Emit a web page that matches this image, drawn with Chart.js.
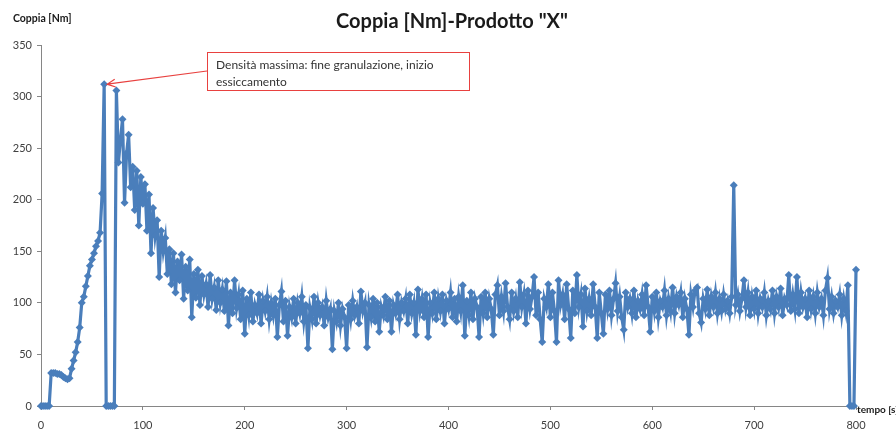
<!DOCTYPE html>
<html>
<head>
<meta charset="utf-8">
<script src="https://cdn.jsdelivr.net/npm/chart.js@4"></script>
<style>
  html, body { margin: 0; padding: 0; background: #ffffff; }
  #grafico { display: block; }
</style>
</head>
<body>
<canvas id="grafico" width="896" height="430"></canvas>
<script>
// Coppia misurata ogni 2 secondi, da t = 0 a t = 800 s
var passo = 2;
var coppia = [
  0, 0, 0, 0, 0, 32, 32, 32, 31, 31,              // t 0
  30, 28, 27, 26, 27, 36, 44, 52, 62, 76,         // t 20
  100, 106, 116, 126, 136, 142, 148, 155, 160, 168, // t 40
  206, 312, 0, 0, 0, 0, 0, 306, 236, 258,         // t 60
  278, 197, 245, 263, 212, 232, 190, 228, 175, 222, // t 80
  196, 215, 170, 205, 148, 192, 165, 180, 125, 170, // t 100
  150, 163, 128, 152, 118, 148, 110, 140, 122, 147, // t 120
  104, 135, 112, 142, 86, 128, 105, 132, 98, 126, // t 140
  108, 118, 96, 127, 104, 115, 93, 122, 100, 113, // t 160
  92, 121, 78, 110, 90, 122, 95, 108, 84, 112,    // t 180
  70, 104, 88, 110, 82, 98, 90, 108, 80, 102,     // t 200
  92, 106, 84, 100, 88, 104, 67, 98, 111, 82,     // t 220
  102, 68, 96, 86, 104, 80, 100, 90, 106, 82,     // t 240
  98, 56, 95, 84, 106, 80, 100, 88, 96, 78,       // t 260
  102, 86, 94, 55, 92, 82, 100, 78, 94, 86,       // t 280
  56, 98, 84, 102, 88, 96, 80, 111, 92, 100,      // t 300
  57, 98, 86, 104, 82, 100, 72, 96, 88, 106,      // t 320
  84, 102, 72, 98, 90, 108, 84, 100, 92, 104,     // t 340
  80, 108, 90, 100, 69, 113, 92, 104, 86, 108,    // t 360
  67, 100, 90, 110, 84, 104, 92, 108, 80, 102,    // t 380
  94, 110, 86, 104, 82, 106, 92, 117, 68, 102,    // t 400
  88, 110, 84, 104, 96, 67, 106, 90, 110, 86,     // t 420
  104, 94, 69, 108, 117, 88, 106, 92, 119, 96,    // t 440
  84, 110, 92, 104, 86, 120, 96, 108, 80, 112,    // t 460
  94, 106, 125, 88, 110, 84, 62, 104, 96, 118,    // t 480
  86, 110, 92, 62, 122, 98, 108, 84, 118, 94,     // t 500
  66, 112, 90, 127, 96, 108, 77, 114, 92, 104,    // t 520
  88, 118, 96, 66, 110, 90, 70, 108, 94, 112,     // t 540
  88, 104, 119, 92, 106, 86, 74, 110, 96, 104,    // t 560
  90, 112, 86, 102, 94, 108, 88, 117, 96, 72,     // t 580
  106, 92, 110, 86, 102, 96, 112, 88, 104, 92,    // t 600
  115, 90, 106, 98, 110, 86, 104, 94, 69, 108,    // t 620
  96, 112, 115, 90, 81, 104, 94, 113, 88, 106,    // t 640
  96, 110, 90, 104, 92, 108, 94, 102, 90, 106,    // t 660
  214, 98, 108, 92, 104, 122, 96, 110, 88, 106,   // t 680
  94, 112, 90, 104, 96, 110, 88, 102, 94, 112,    // t 700
  90, 106, 96, 114, 88, 104, 98, 127, 92, 108,    // t 720
  94, 125, 90, 110, 96, 104, 86, 112, 94, 106,    // t 740
  90, 110, 96, 104, 88, 112, 124, 94, 106, 90,    // t 760
  102, 96, 108, 88, 104, 92, 117, 0, 0, 0,        // t 780
  132                                             // t 800
];
var tickTempo = [0, 100, 200, 300, 400, 500, 600, 700, 800];
var tickCoppia = [0, 50, 100, 150, 200, 250, 300, 350];

var titolo = 'Coppia [Nm]-Prodotto "X"';
var titoloY = 'Coppia [Nm]';
var titoloX = 'tempo [s]';
var nota = ['Densità massima: fine granulazione, inizio', 'essiccamento'];
var picco = { x: 62, y: 312 }; // punto indicato dalla nota

var punti = coppia.map(function (v, i) { return { x: i * passo, y: v }; });

var grigio = '#868686';
var blu = '#4a7ebb';
var rosso = '#e8413f';

// testi e nota disegnati sopra il grafico
var testi = {
    id: 'testi',
    afterDraw: function (chart) {
        var ctx = chart.ctx;
        ctx.save();
        ctx.fillStyle = '#1a1a1a';
        ctx.textBaseline = 'middle';
        ctx.textAlign = 'center';
        ctx.font = 'bold 20px Lato';
        ctx.fillText(titolo, 452, 22);

        ctx.textAlign = 'left';
        ctx.font = 'bold 10.5px Lato';
        ctx.fillText(titoloY, 13, 19);
        ctx.font = 'bold 10px Lato';
        ctx.fillText(titoloX, 857, 410);

        // riquadro della nota
        ctx.fillStyle = '#ffffff';
        ctx.fillRect(207.5, 52.5, 262, 38);
        ctx.strokeStyle = rosso;
        ctx.lineWidth = 1;
        ctx.strokeRect(207.5, 52.5, 262, 38);
        ctx.fillStyle = '#333333';
        ctx.font = '12px Lato';
        ctx.fillText(nota[0], 216, 65);
        ctx.fillText(nota[1], 216, 82);

        // freccia verso il picco
        var px = chart.scales.x.getPixelForValue(picco.x) + 3;
        var py = chart.scales.y.getPixelForValue(picco.y);
        var sx = 207, sy = 71;
        var ang = Math.atan2(py - sy, px - sx);
        ctx.strokeStyle = rosso;
        ctx.lineWidth = 1.2;
        ctx.beginPath();
        ctx.moveTo(sx, sy);
        ctx.lineTo(px, py);
        ctx.moveTo(px - 9 * Math.cos(ang + 0.45), py - 9 * Math.sin(ang + 0.45));
        ctx.lineTo(px, py);
        ctx.lineTo(px - 9 * Math.cos(ang - 0.45), py - 9 * Math.sin(ang - 0.45));
        ctx.stroke();
        ctx.restore();
    }
};

Chart.defaults.font.family = 'Lato';

var ctx = document.getElementById('grafico').getContext('2d');
var myChart = new Chart(ctx, {
    type: 'line',
    data: {
        datasets: [{
            data: punti,
            borderColor: blu,
            backgroundColor: blu,
            borderWidth: 3.2,
            pointStyle: 'rectRot',
            pointRadius: 4,
            pointBorderWidth: 0,
            tension: 0,
            clip: false
        }]
    },
    options: {
        responsive: false,
        animation: false,
        layout: {
            padding: { top: 45, right: 40, left: 0, bottom: 0 }
        },
        plugins: {
            legend: { display: false },
            tooltip: { enabled: false }
        },
        scales: {
            x: {
                type: 'linear',
                min: 0,
                max: 800,
                afterBuildTicks: function (scale) {
                    scale.ticks = tickTempo.map(function (v) { return { value: v }; });
                },
                afterFit: function (scale) { scale.height = 24; },
                grid: { drawOnChartArea: false, tickLength: 4, color: grigio },
                border: { color: grigio },
                ticks: { color: '#404040', font: { size: 11 }, padding: 9, maxRotation: 0 }
            },
            y: {
                min: 0,
                max: 350,
                afterBuildTicks: function (scale) {
                    scale.ticks = tickCoppia.map(function (v) { return { value: v }; });
                },
                afterFit: function (scale) { scale.width = 41; },
                grid: { drawOnChartArea: false, tickLength: 4, color: grigio },
                border: { color: grigio },
                ticks: { color: '#404040', font: { size: 11 }, padding: 5 }
            }
        }
    },
    plugins: [testi]
});
</script>
</body>
</html>
